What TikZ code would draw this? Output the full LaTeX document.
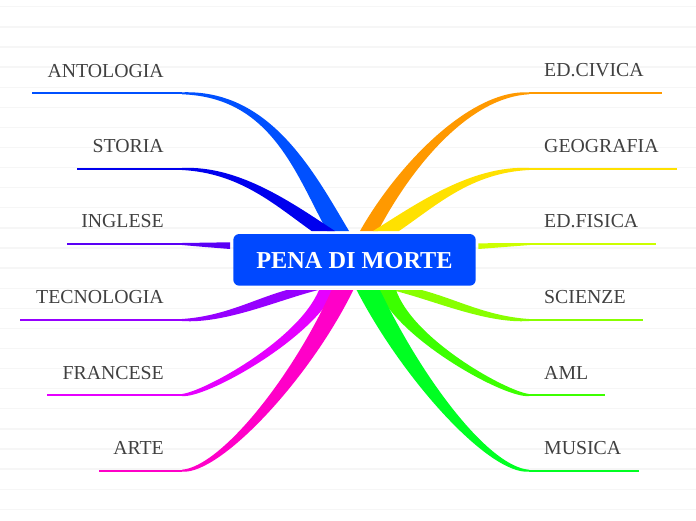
\documentclass[tikz,border=0pt]{standalone}
\usepackage{fontspec}
\setmainfont{Liberation Serif}
\definecolor{cAnt}{RGB}{0,80,255}
\definecolor{cSto}{RGB}{0,0,238}
\definecolor{cIng}{RGB}{90,0,245}
\definecolor{cTec}{RGB}{150,0,255}
\definecolor{cFra}{RGB}{230,0,255}
\definecolor{cArt}{RGB}{255,0,200}
\definecolor{cCiv}{RGB}{255,153,0}
\definecolor{cGeo}{RGB}{255,225,0}
\definecolor{cFis}{RGB}{204,255,0}
\definecolor{cSci}{RGB}{136,255,0}
\definecolor{cAml}{RGB}{60,255,0}
\definecolor{cMus}{RGB}{0,255,34}
\definecolor{rootblue}{RGB}{0,72,255}
\definecolor{labelgray}{RGB}{64,64,64}
\definecolor{gridgray}{RGB}{246,246,246}
\tikzset{
  lbl/.style={font=\fontsize{19.8}{22}\selectfont, text=labelgray, inner sep=0pt},
  gridline/.style={draw=gridgray, line width=1.3pt},
  underline/.style={line width=2pt},
  rootbox/.style={fill=rootblue, rounded corners=6pt, minimum width=242.4pt,
    minimum height=51.7pt, inner sep=0pt, text=white, text height=18pt, text depth=0pt,
    font=\fontsize{24.3}{28}\selectfont\bfseries}
}
% #1 colour, #2 side sign, #3 start (underline end), #4 control 1, #5 control 2,
% #6 root centre, #7 root half width, #8 far end of underline
\newcommand\branch[8]{%
  \fill[#1] ([shift={(0,{(#2)})}]#3) .. controls ([shift={(0,{4*(#2)})}]#4)
     and ([shift={({0.85*(#7)},0)}]#5) .. ([shift={({(#7)},0)}]#6)
     -- ([shift={({-(#7)},0)}]#6) .. controls ([shift={({-0.85*(#7)},0)}]#5)
     and ([shift={(0,{-4*(#2)})}]#4) .. ([shift={(0,{-(#2)})}]#3) -- cycle;
  \draw[#1, underline] (#3) -- (#8);
}
\begin{document}
\begin{tikzpicture}[x=1pt,y=-1pt]
\useasboundingbox (0,0) rectangle (696,520);
\foreach \k in {0,...,25} \draw[gridline] (0,{6.8+20.1*\k}) -- (696,{6.8+20.1*\k});

% left side
\branch{cAnt}{-1}{182,93.3}{270,93.3}{304,171}{338,231}{11}{32,93.3}
\branch{cSto}{-1}{182,169}{240,169}{285,205}{323.3,231}{11.7}{77,169}
\fill[cIng] (182,243) -- (230,242.3) -- (230,249) .. controls (205,247) .. (182,245) -- cycle;
\draw[cIng, underline] (67,244) -- (182,244);
\branch{cTec}{1}{182,320}{225,320}{265,300}{302.5,290}{15.8}{20,320}
\branch{cFra}{1}{182,395}{205,395}{305,340}{327,290}{8}{47,395}
\branch{cArt}{1}{182,470.7}{220,470.7}{300,380}{342.5,290}{10.8}{99,470.7}

% right side
\branch{cCiv}{1}{529,93.3}{470,93.3}{405,165}{369,231}{9}{661.7,93.3}
\branch{cGeo}{1}{529,169}{471,169}{426,205}{386,231}{13}{676.7,169}
\fill[cFis] (478.3,243.3) -- (530,243) -- (530,245) .. controls (505,247) .. (478.3,249) -- cycle;
\draw[cFis, underline] (529,244) -- (656,244);
\branch{cSci}{-1}{529,320}{486,320}{446,300}{406.7,290}{15}{643,320}
\branch{cAml}{-1}{529,395}{506,395}{406,340}{387,290}{9}{605,395}
\branch{cMus}{-1}{529,470.7}{489,470.7}{413,380}{368.3,290}{11.7}{638.7,470.7}

\node[rootbox] (root) at (354.5,259.85) {PENA DI MORTE};

\node[lbl, anchor=base east] (antologia) at (164,77.3) {ANTOLOGIA};
\node[lbl, anchor=base east] (storia) at (164,152.3) {STORIA};
\node[lbl, anchor=base east] (inglese) at (164,227.3) {INGLESE};
\node[lbl, anchor=base east] (tecnologia) at (164,303.3) {TECNOLOGIA};
\node[lbl, anchor=base east] (francese) at (164,379.3) {FRANCESE};
\node[lbl, anchor=base east] (arte) at (164,454.3) {ARTE};

\node[lbl, anchor=base west] (civica) at (544,76.7) {ED.CIVICA};
\node[lbl, anchor=base west] (geografia) at (544,152) {GEOGRAFIA};
\node[lbl, anchor=base west] (fisica) at (544,227) {ED.FISICA};
\node[lbl, anchor=base west] (scienze) at (544,303) {SCIENZE};
\node[lbl, anchor=base west] (aml) at (544,379) {AML};
\node[lbl, anchor=base west] (musica) at (544,454) {MUSICA};
\end{tikzpicture}
\end{document}
